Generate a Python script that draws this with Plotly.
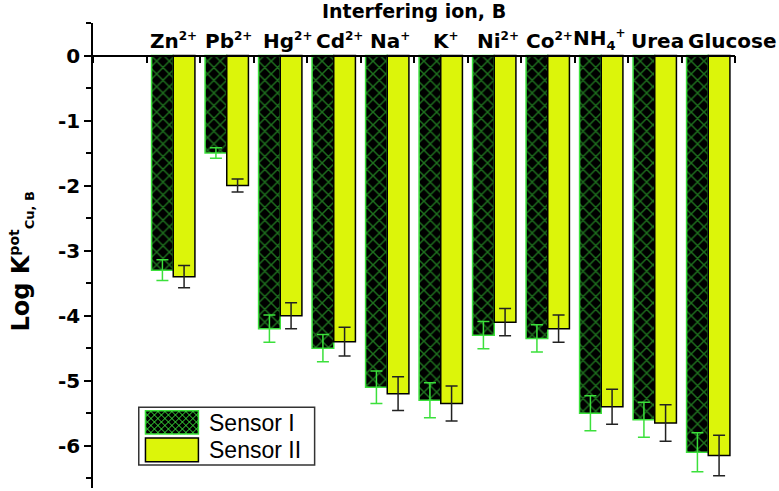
###########
# IMPORTS #
###########
import plotly.graph_objects as go

########
# DATA #
########
ion_names = ['Zn', 'Pb', 'Hg', 'Cd', 'Na', 'K', 'Ni', 'Co', 'NH', 'Urea', 'Glucose']
ion_subs = ['', '', '', '', '', '', '', '', '4', '', '']
ion_charges = ['2+', '2+', '2+', '2+', '+', '+', '2+', '2+', '+', '', '']
positions = [1, 2, 3, 4, 5, 6, 7, 8, 9, 10, 11]

sensor_1 = [-3.3, -1.5, -4.2, -4.5, -5.1, -5.3, -4.3, -4.35, -5.5, -5.6, -6.1]
sensor_1_err = [0.16, 0.08, 0.21, 0.21, 0.25, 0.27, 0.21, 0.21, 0.27, 0.27, 0.3]
sensor_2 = [-3.4, -2.0, -4.0, -4.4, -5.2, -5.35, -4.1, -4.2, -5.4, -5.65, -6.15]
sensor_2_err = [0.17, 0.1, 0.2, 0.22, 0.26, 0.27, 0.21, 0.21, 0.27, 0.28, 0.31]

y_ticks = [0, -1, -2, -3, -4, -5, -6]
y_tick_text = ['0', '-1', '-2', '-3', '-4', '-5', '-6']

#########
# STYLE #
#########
GREEN = '#3BE03B'
YELLOW = '#DCF50A'
BOLD_FONT = 'DejaVu Sans'
REG_FONT = 'Liberation Sans, Arial, sans-serif'
label_shift = [0, 2, 7, 6, 3, 5, 4, 2, -2, 3, 24]

# plot area in page pixels
L, R, T, B = 92.5, 735, 23, 488
FIG_W, FIG_H = 779, 491


def px_to_paper(px, py):
    return (px - L) / (R - L), (B - py) / (B - T)


def hatch_path(x0, y0, x1, y1, step=7):
    # diagonal crossing lines clipped to the rectangle (pixel coords)
    segs = []
    w, h = x1 - x0, y1 - y0
    c = -h
    while c < w:
        pts = []
        for v in (0, h):
            u = v + c
            if 0 <= u <= w:
                pts.append((u, v))
        for u in (0, w):
            v = u - c
            if 0 <= v <= h:
                pts.append((u, v))
        if len(pts) >= 2:
            segs.append((pts[0], pts[-1]))
        pts = []
        for v in (0, h):
            u = -v + w - c
            if 0 <= u <= w:
                pts.append((u, v))
        for u in (0, w):
            v = w - c - u
            if 0 <= v <= h:
                pts.append((u, v))
        if len(pts) >= 2:
            segs.append((pts[0], pts[-1]))
        c += step
    path = ''
    for (ua, va), (ub, vb) in segs:
        ax, ay = px_to_paper(x0 + ua, y0 + va)
        bx, by = px_to_paper(x0 + ub, y0 + vb)
        path += f'M{ax:.4f},{ay:.4f} L{bx:.4f},{by:.4f} '
    return path


def small(txt, size):
    return f'<span style="font-size:{size}px">{txt}</span>'


##########
# FIGURE #
##########
fig = go.Figure()

fig.add_trace(go.Bar(
    x=positions, y=sensor_1, name='Sensor I',
    marker=dict(color='black', line=dict(color=GREEN, width=1.5),
                pattern=dict(shape='x', fgcolor=GREEN, bgcolor='black',
                             size=9, solidity=0.3, fillmode='overlay')),
    error_y=dict(type='data', array=sensor_1_err, color=GREEN, thickness=1.5, width=6),
))
fig.add_trace(go.Bar(
    x=positions, y=sensor_2, name='Sensor II',
    marker=dict(color=YELLOW, line=dict(color='black', width=1.5)),
    error_y=dict(type='data', array=sensor_2_err, color='#222222', thickness=1.5, width=6),
))

fig.update_layout(
    barmode='group', bargap=0.19, bargroupgap=0,
    width=FIG_W, height=FIG_H,
    margin=dict(l=L, r=FIG_W - R, t=T, b=FIG_H - B, autoexpand=False),
    plot_bgcolor='white', paper_bgcolor='white',
    showlegend=False,
    font=dict(family=REG_FONT, color='black'),
)

zero_pos = (0 - (-6.65)) / (0.5 - (-6.65))

fig.update_xaxes(
    range=[-0.5, 11.5], side='top', anchor='free', position=zero_pos,
    tickvals=positions, showticklabels=False, automargin=False, ticks='',
    showline=True, linecolor='black', linewidth=1.5, showgrid=False, zeroline=False,
    minor=dict(ticks='inside', tick0=0.5, dtick=1, ticklen=7, tickcolor='black', tickwidth=1.5),
)
fig.update_yaxes(
    range=[-6.65, 0.5], tickvals=y_ticks, ticktext=y_tick_text, automargin=False,
    ticks='outside', ticklen=7, tickwidth=1.5, tickcolor='black',
    tickfont=dict(size=20, family=BOLD_FONT, weight='bold'),
    showline=True, linecolor='black', linewidth=1.5, showgrid=False, zeroline=False,
    minor=dict(ticks='outside', dtick=0.5, ticklen=5, tickwidth=1.5, tickcolor='black'),
)

# Category labels above the zero line
for pos, name, sub, chg, sh in zip(positions, ion_names, ion_subs, ion_charges, label_shift):
    txt = name
    if sub:
        txt += '<sub>' + small(sub, 13) + '</sub>'
    if chg:
        txt += '<sup>' + small(chg, 12) + '</sup>'
    fig.add_annotation(x=pos, y=0, xref='x', yref='y', showarrow=False,
                       xanchor='center', yanchor='bottom', yshift=1, xshift=sh,
                       text=txt, font=dict(size=20, family=BOLD_FONT, weight='bold'))

# Y axis title
yx, yy = px_to_paper(20, 262)
fig.add_annotation(x=yx, y=yy, xref='paper', yref='paper', showarrow=False, textangle=-90,
                   xanchor='center', yanchor='middle',
                   text='Log K<sup>' + small('pot', 14) + '</sup><sub>' + small('Cu, B', 13) + '</sub>',
                   font=dict(size=24, family=BOLD_FONT, weight='bold'))

# Top axis title, centred over the plot
tx, ty = px_to_paper((L + R) / 2, 11)
fig.add_annotation(x=tx, y=ty, xref='paper', yref='paper', showarrow=False,
                   xanchor='center', yanchor='middle',
                   text='Interfering ion, B', font=dict(size=19, family=BOLD_FONT, weight='bold'))

# Hand-drawn legend (large swatches)
bx0, by0 = px_to_paper(138.3, 465)
bx1, by1 = px_to_paper(314.3, 407.3)
fig.add_shape(type='rect', xref='paper', yref='paper', x0=bx0, y0=by0, x1=bx1, y1=by1,
              line=dict(color='#333333', width=1.5), fillcolor='white')

s1x0, s1y0 = px_to_paper(145, 434)
s1x1, s1y1 = px_to_paper(198, 410.7)
fig.add_shape(type='rect', xref='paper', yref='paper', x0=s1x0, y0=s1y0, x1=s1x1, y1=s1y1,
              line=dict(width=0), fillcolor='black')
fig.add_shape(type='path', xref='paper', yref='paper', path=hatch_path(145, 410.7, 198, 434),
              line=dict(color=GREEN, width=1))
fig.add_shape(type='rect', xref='paper', yref='paper', x0=s1x0, y0=s1y0, x1=s1x1, y1=s1y1,
              line=dict(color=GREEN, width=1.5))

s2x0, s2y0 = px_to_paper(145, 461.7)
s2x1, s2y1 = px_to_paper(198, 438)
fig.add_shape(type='rect', xref='paper', yref='paper', x0=s2x0, y0=s2y0, x1=s2x1, y1=s2y1,
              line=dict(color='black', width=1.5), fillcolor=YELLOW)

for name, py in [('Sensor I', 422.5), ('Sensor II', 450)]:
    ax_, ay_ = px_to_paper(207, py)
    fig.add_annotation(x=ax_, y=ay_, xref='paper', yref='paper', showarrow=False,
                       xanchor='left', yanchor='middle', text=name,
                       font=dict(size=23, family=REG_FONT))

# drop the browser's default 8px page margin so the figure fills the window
fig.write_html('out.html', config={'displayModeBar': False},
               post_script="document.body.style.margin='0';")
